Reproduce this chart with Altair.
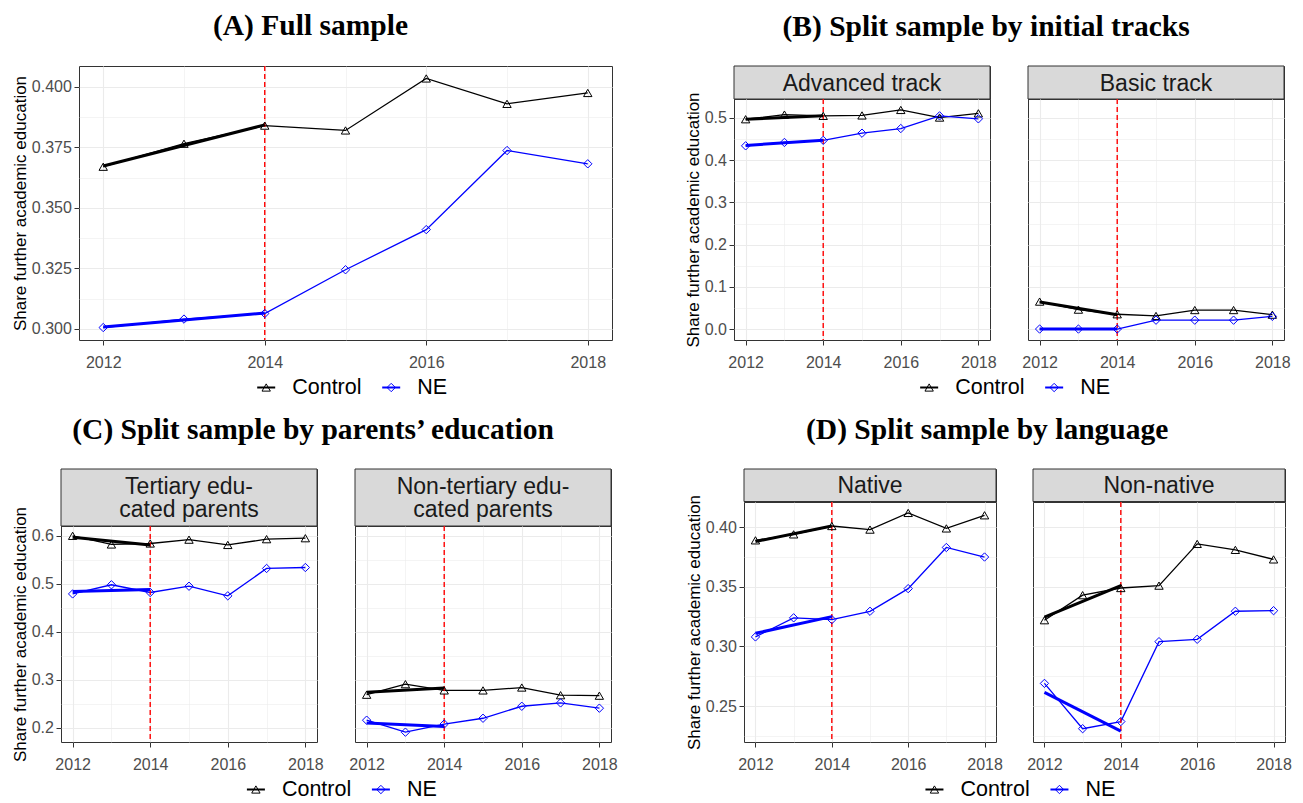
import json
import altair as alt
import pandas as pd

# ---------------- data ----------------
years = [2012, 2013, 2014, 2015, 2016, 2017, 2018]
trend_years = [2012, 2014]
reform_year = [2014]
series_names = ["Control", "NE"]
series_colors = ["#000000", "#0000FF"]
series_shapes = ["triangle-up", "diamond"]

# (A) Full sample
a_control = [0.367, 0.3765, 0.384, 0.382, 0.4035, 0.393, 0.3975]
a_ne = [0.3005, 0.304, 0.3063, 0.3244, 0.341, 0.3737, 0.3682]
a_trend_control = [0.3673, 0.3843]
a_trend_ne = [0.3007, 0.3065]

# (B) Advanced / Basic track
b_adv_control = [0.497, 0.508, 0.505, 0.506, 0.519, 0.501, 0.511]
b_adv_ne = [0.434, 0.442, 0.447, 0.464, 0.475, 0.505, 0.498]
b_adv_trend_control = [0.497, 0.505]
b_adv_trend_ne = [0.435, 0.447]
b_bas_control = [0.065, 0.046, 0.035, 0.031, 0.045, 0.045, 0.034]
b_bas_ne = [0.000, 0.000, 0.000, 0.021, 0.021, 0.021, 0.030]
b_bas_trend_control = [0.064, 0.034]
b_bas_trend_ne = [0.000, 0.000]

# (C) Parents' education
c_ter_control = [0.600, 0.582, 0.584, 0.592, 0.581, 0.593, 0.595]
c_ter_ne = [0.479, 0.498, 0.482, 0.495, 0.475, 0.532, 0.534]
c_ter_trend_control = [0.597, 0.581]
c_ter_trend_ne = [0.484, 0.488]
c_non_control = [0.269, 0.291, 0.278, 0.278, 0.284, 0.268, 0.267]
c_non_ne = [0.216, 0.191, 0.208, 0.220, 0.245, 0.252, 0.241]
c_non_trend_control = [0.274, 0.283]
c_non_trend_ne = [0.210, 0.203]

# (D) Language
d_nat_control = [0.389, 0.394, 0.401, 0.398, 0.412, 0.399, 0.410]
d_nat_ne = [0.308, 0.324, 0.3225, 0.3295, 0.3485, 0.383, 0.375]
d_nat_trend_control = [0.388, 0.401]
d_nat_trend_ne = [0.311, 0.325]
d_non_control = [0.322, 0.343, 0.349, 0.351, 0.386, 0.381, 0.373]
d_non_ne = [0.269, 0.231, 0.237, 0.304, 0.306, 0.3295, 0.330]
d_non_trend_control = [0.3245, 0.351]
d_non_trend_ne = [0.2615, 0.229]

titles = {
    "A": "(A) Full sample",
    "B": "(B) Split sample by initial tracks",
    "C": "(C) Split sample by parents\u2019 education",
    "D": "(D) Split sample by language",
}
strip_labels = {
    "B1": "Advanced track", "B2": "Basic track",
    "C1": "Tertiary edu-\ncated parents", "C2": "Non-tertiary edu-\ncated parents",
    "D1": "Native", "D2": "Non-native",
}
y_title = "Share further academic education"

# ---------------- tables ----------------
panel_data = {
    "A": (a_control, a_ne, a_trend_control, a_trend_ne),
    "B1": (b_adv_control, b_adv_ne, b_adv_trend_control, b_adv_trend_ne),
    "B2": (b_bas_control, b_bas_ne, b_bas_trend_control, b_bas_trend_ne),
    "C1": (c_ter_control, c_ter_ne, c_ter_trend_control, c_ter_trend_ne),
    "C2": (c_non_control, c_non_ne, c_non_trend_control, c_non_trend_ne),
    "D1": (d_nat_control, d_nat_ne, d_nat_trend_control, d_nat_trend_ne),
    "D2": (d_non_control, d_non_ne, d_non_trend_control, d_non_trend_ne),
}
obs_rows, trend_rows = [], []
for key, (ctrl, ne, tc, tn) in panel_data.items():
    for s, vals in zip(series_names, (ctrl, ne)):
        for yr, v in zip(years, vals):
            obs_rows.append({"panel": key, "series": s, "year": yr, "value": v})
    for s, vals in zip(series_names, (tc, tn)):
        for yr, v in zip(trend_years, vals):
            trend_rows.append({"panel": key, "series": s, "year": yr, "value": v})
obs = pd.DataFrame(obs_rows)
trend = pd.DataFrame(trend_rows)
vline_df = pd.DataFrame({"year": reform_year})


def ydomain(keys):
    v = pd.concat([obs[obs.panel.isin(keys)].value, trend[trend.panel.isin(keys)].value])
    lo, hi = v.min(), v.max()
    pad = 0.05 * (hi - lo)
    return [lo - pad, hi + pad]


xdom = [years[0] - 0.05 * (years[-1] - years[0]), years[-1] + 0.05 * (years[-1] - years[0])]
x_major = [2012, 2014, 2016, 2018]

color_enc = alt.Color("series:N", scale=alt.Scale(domain=series_names, range=series_colors), legend=None)
shape_enc = alt.Shape("series:N", scale=alt.Scale(domain=series_names, range=series_shapes), legend=None)

GRID_MAJOR = 1.1
GRID_MINOR = 0.55
STRIP_FONT = 23
STRIP_LH = 23.5
MARK_SIZE = 70
Y_TITLE_PAD = 2
AX_TITLE = 20 + Y_TITLE_PAD  # y-axis title box + padding
SPACER_W = 1


def panel(key, w, h, dom, majors, minors, fmt, left_axis, extent):
    d = obs[obs.panel == key]
    t = trend[trend.panel == key]
    ty = "indexof(%s, datum.value) >= 0" % json.dumps(majors)
    tx = "indexof(%s, datum.value) >= 0" % json.dumps(x_major)
    yvals = sorted(majors + minors)
    xaxis = alt.Axis(
        values=years, title=None,
        labelExpr="%s ? format(datum.value, 'd') : ''" % tx,
        tickOpacity={"condition": {"test": tx, "value": 1}, "value": 0},
        gridWidth={"condition": {"test": tx, "value": GRID_MAJOR}, "value": GRID_MINOR},
    )
    if left_axis:
        yaxis = alt.Axis(
            values=yvals, title=y_title,
            labelExpr="%s ? format(datum.value, '%s') : ''" % (ty, fmt),
            tickOpacity={"condition": {"test": ty, "value": 1}, "value": 0},
            gridWidth={"condition": {"test": ty, "value": GRID_MAJOR}, "value": GRID_MINOR},
            minExtent=extent, maxExtent=extent, titlePadding=Y_TITLE_PAD,
        )
    else:
        yaxis = alt.Axis(
            values=yvals, title=None, labels=False, ticks=False,
            gridWidth={"condition": {"test": ty, "value": GRID_MAJOR}, "value": GRID_MINOR},
            minExtent=0, maxExtent=0,
        )
    x = alt.X("year:Q", scale=alt.Scale(domain=xdom, nice=False, zero=False), axis=xaxis)
    y = alt.Y("value:Q", scale=alt.Scale(domain=dom, nice=False, zero=False), axis=yaxis)
    lines = alt.Chart(d).mark_line(strokeWidth=1.3).encode(x=x, y=y, color=color_enc)
    vline = alt.Chart(vline_df).mark_rule(color="#FF0000", strokeDash=[5, 3], strokeWidth=1.4).encode(x=x)
    tr = alt.Chart(t).mark_line(strokeWidth=3).encode(x=x, y=y, color=color_enc)
    pts = alt.Chart(d).mark_point(filled=False, size=MARK_SIZE, strokeWidth=1, opacity=1).encode(
        x=x, y=y, color=color_enc, shape=shape_enc)
    return alt.layer(lines, vline, tr, pts).properties(width=w, height=h)


def strip(key, w, h):
    label = strip_labels[key]
    n_lines = label.count("\n") + 1
    sd = pd.DataFrame({"label": [label]})
    rect = alt.Chart(sd).mark_rect(fill="#D9D9D9", stroke="#333333", strokeWidth=1).encode(
        x=alt.value(0), x2=alt.value(w), y=alt.value(0), y2=alt.value(h))
    txt = alt.Chart(sd).mark_text(
        font="Liberation Sans", fontSize=STRIP_FONT, color="#1A1A1A", lineBreak="\n",
        lineHeight=STRIP_LH, baseline="middle", align="center").encode(
        x=alt.value(w / 2), y=alt.value(h / 2 - (n_lines - 1) * STRIP_LH / 2 + 1),
        text="label:N")
    return alt.layer(rect, txt).properties(width=w, height=h)


def column(key, w, strip_h, plot):
    return alt.vconcat(strip(key, w, strip_h), plot, spacing=0, bounds="flush")


def spacer():
    sd = pd.DataFrame({"k": [0]})
    return alt.Chart(sd).mark_point(size=1, opacity=0).encode(
        x=alt.value(0), y=alt.value(0)).properties(
        width=SPACER_W, height=1, view=alt.ViewBackground(strokeOpacity=0))


def legend_chart(sym_x, w, h):
    ld = pd.DataFrame({"series": series_names})
    base = alt.Chart(ld)
    xs = alt.X("series:N", scale=alt.Scale(type="point", domain=series_names,
                                           range=[sym_x, sym_x + 125], padding=0), axis=None)
    ys = alt.value(h / 2)
    key = base.mark_point(shape="M-1,0L1,0", size=324, strokeWidth=2, filled=False, opacity=1).encode(
        x=xs, y=ys, color=color_enc)
    sym = base.mark_point(filled=False, size=MARK_SIZE, strokeWidth=1, opacity=1).encode(
        x=xs, y=ys, color=color_enc, shape=shape_enc)
    txt = base.mark_text(align="left", baseline="middle", dx=26, font="Liberation Sans",
                         fontSize=21.5, color="#000000").encode(x=xs, y=ys, text="series:N")
    return alt.layer(key, sym, txt).properties(width=w, height=h,
                                               view=alt.ViewBackground(strokeOpacity=0))


LEG_H = 26
LEG_SP = 3.5
LEG_W = 520


def quad(cells, extent, panels_w, title, inner_sp):
    panels = alt.hconcat(spacer(), *cells, spacing=0) if len(cells) == 1 else \
        alt.hconcat(spacer(), alt.hconcat(*cells, spacing=inner_sp), spacing=0)
    plot_left = SPACER_W + AX_TITLE + extent
    sym_x = plot_left + panels_w / 2 + 5.7 - 85.6
    return alt.vconcat(panels, legend_chart(sym_x, LEG_W, LEG_H),
                       spacing=LEG_SP).properties(title=alt.TitleParams(title, anchor="middle"))


# ----- quad A -----
ext_a = 47.6
plot_a = panel("A", 533, 274, ydomain(["A"]), [0.3, 0.325, 0.35, 0.375, 0.4],
               [0.3125, 0.3375, 0.3625, 0.3875], ".3f", True, ext_a)
quad_a = quad([plot_a], ext_a, 533, titles["A"], 0)

# ----- quad B -----
ext_b = 29.8
dom_b = ydomain(["B1", "B2"])
maj_b, min_b = [0.0, 0.1, 0.2, 0.3, 0.4, 0.5], [0.05, 0.15, 0.25, 0.35, 0.45]
quad_b = quad([
    column("B1", 256, 33, panel("B1", 256, 241, dom_b, maj_b, min_b, ".1f", True, ext_b)),
    column("B2", 256, 33, panel("B2", 256, 241, dom_b, maj_b, min_b, ".1f", False, 0)),
], ext_b, 548.5, titles["B"], 24)

# ----- quad C -----
ext_c = 29.8
dom_c = ydomain(["C1", "C2"])
maj_c, min_c = [0.2, 0.3, 0.4, 0.5, 0.6], [0.25, 0.35, 0.45, 0.55]
quad_c = quad([
    column("C1", 256, 57, panel("C1", 256, 216, dom_c, maj_c, min_c, ".1f", True, ext_c)),
    column("C2", 256, 57, panel("C2", 256, 216, dom_c, maj_c, min_c, ".1f", False, 0)),
], ext_c, 548, titles["C"], 24)

# ----- quad D -----
ext_d = 38.7
dom_d = ydomain(["D1", "D2"])
maj_d, min_d = [0.25, 0.3, 0.35, 0.4], [0.225, 0.275, 0.325, 0.375]
quad_d = quad([
    column("D1", 252, 32.5, panel("D1", 252, 240, dom_d, maj_d, min_d, ".2f", True, ext_d)),
    column("D2", 252, 32.5, panel("D2", 252, 240, dom_d, maj_d, min_d, ".2f", False, 0)),
], ext_d, 539.3, titles["D"], 23)

chart = alt.vconcat(
    alt.hconcat(quad_a, quad_b, spacing=68),
    alt.hconcat(quad_c, quad_d, spacing=64),
    spacing=13,
).properties(
    padding={"left": 0, "top": 3, "right": 0, "bottom": 0},
    background="#FFFFFF",
).configure_view(
    stroke="#333333", strokeWidth=1,
).configure_axis(
    labelFont="Liberation Sans", labelFontSize=16, labelColor="#4D4D4D",
    titleFont="Liberation Sans", titleFontSize=17, titleFontWeight="normal", titleColor="#000000",
    tickColor="#333333", tickSize=5, gridColor="#EBEBEB", domain=False,
    labelFlush=False, labelOverlap=False,
).configure_axisX(
    labelPadding=9,
).configure_axisY(
    labelPadding=2.6,
).configure_title(
    font="Liberation Serif", fontSize=29.5, fontWeight="bold", color="#000000",
    anchor="middle", offset=23,
)

chart.save("out.html", embed_options={"renderer": "svg", "actions": False})
